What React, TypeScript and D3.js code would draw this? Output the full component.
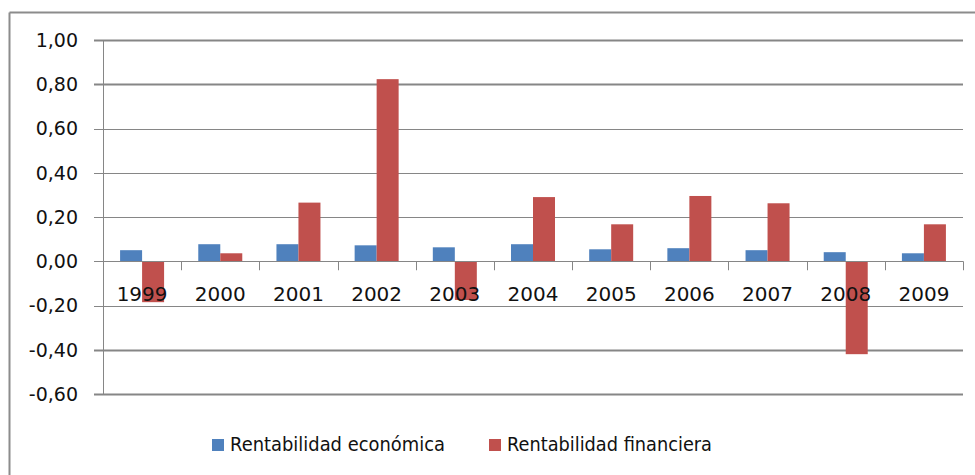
import React from "react";
import * as d3 from "d3";

const years = ["1999", "2000", "2001", "2002", "2003", "2004", "2005", "2006", "2007", "2008", "2009"];
const economica = [0.05, 0.077, 0.077, 0.072, 0.063, 0.077, 0.054, 0.059, 0.05, 0.041, 0.036];
const financiera = [-0.185, 0.036, 0.265, 0.823, -0.175, 0.29, 0.167, 0.295, 0.262, -0.42, 0.167];
const yTicks = [1.0, 0.8, 0.6, 0.4, 0.2, 0.0, -0.2, -0.4, -0.6];
const seriesNames = ["Rentabilidad económica", "Rentabilidad financiera"];
const colors = ["#4F81BD", "#C0504D"];

const W = 975;
const H = 475;
const plot = { left: 103, right: 963, top: 40, bottom: 394 };

export default function App() {
  const x = d3.scaleBand<string>().domain(years).range([plot.left, plot.right]).paddingInner(0).paddingOuter(0);
  const y = d3.scaleLinear().domain([-0.6, 1.0]).range([plot.bottom, plot.top]);
  const inner = d3.scaleBand<number>().domain([0, 1]).range([0, 44]);
  const barOffset = (x.bandwidth() - 44) / 2;
  const fmt = (v: number) => v.toFixed(2).replace(".", ",");
  const thick = new Set([1.0, 0.8, -0.4, -0.6]);
  const font = "'DejaVu Sans', sans-serif";
  const series = [economica, financiera];

  return (
    <svg width={W} height={H} style={{ position: "absolute", left: 0, top: 0, background: "#fff" }}>
      <rect x={0} y={0} width={W} height={H} fill="#fff" />
      {/* outer chart border */}
      <line x1={9.5} y1={12.5} x2={W} y2={12.5} stroke="#8c8c8c" strokeWidth={2} />
      <line x1={9.5} y1={12.5} x2={9.5} y2={H} stroke="#8c8c8c" strokeWidth={2} />

      {/* gridlines and y ticks */}
      {yTicks.map((t) => (
        <g key={t}>
          <line
            x1={plot.left - 9}
            x2={plot.right}
            y1={Math.round(y(t)) + 0.5}
            y2={Math.round(y(t)) + 0.5}
            stroke="#868686"
            strokeWidth={thick.has(t) ? 2 : 1}
          />
          <text
            x={78}
            y={y(t)}
            dy="0.36em"
            textAnchor="end"
            fontFamily={font}
            fontSize={19}
            fill="#111"
          >
            {fmt(t)}
          </text>
        </g>
      ))}

      {/* y axis */}
      <line x1={plot.left + 0.5} x2={plot.left + 0.5} y1={plot.top} y2={plot.bottom} stroke="#868686" strokeWidth={1} />

      {/* bars */}
      {years.map((yr, i) => (
        <g key={yr}>
          {series.map((s, k) => {
            const v = s[i];
            const x0 = (x(yr) as number) + barOffset + (inner(k) as number);
            return (
              <rect
                key={k}
                x={x0}
                y={Math.min(y(v), y(0))}
                width={inner.bandwidth()}
                height={Math.abs(y(v) - y(0))}
                fill={colors[k]}
              />
            );
          })}
        </g>
      ))}

      {/* category axis on zero line */}
      <line x1={plot.left} x2={plot.right} y1={Math.round(y(0)) + 0.5} y2={Math.round(y(0)) + 0.5} stroke="#868686" strokeWidth={1} />
      {years.map((yr, i) => {
        const xb = Math.round((x(yr) as number) + x.bandwidth()) + 0.5;
        return (
          <line key={"t" + i} x1={xb} x2={xb} y1={y(0)} y2={y(0) + 9} stroke="#868686" strokeWidth={1} />
        );
      })}
      {years.map((yr) => (
        <text
          key={"l" + yr}
          x={(x(yr) as number) + x.bandwidth() / 2}
          y={301}
          textAnchor="middle"
          fontFamily={font}
          fontSize={20}
          fill="#111"
        >
          {yr}
        </text>
      ))}

      {/* legend */}
      <rect x={212} y={439} width={12} height={12} fill={colors[0]} />
      <text x={230} y={451} fontFamily={font} fontSize={19} textLength={215} lengthAdjust="spacingAndGlyphs" fill="#111">
        {seriesNames[0]}
      </text>
      <rect x={489} y={439} width={12} height={12} fill={colors[1]} />
      <text x={507} y={451} fontFamily={font} fontSize={19} textLength={205} lengthAdjust="spacingAndGlyphs" fill="#111">
        {seriesNames[1]}
      </text>
    </svg>
  );
}
